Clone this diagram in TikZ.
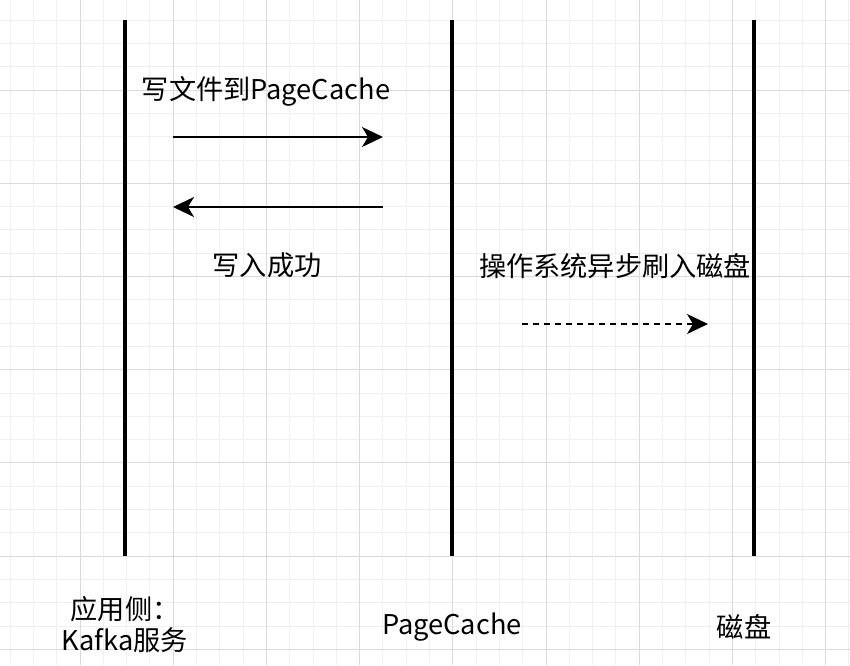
\documentclass[tikz,border=0pt]{standalone}
\usepackage{fontspec}
\setmainfont{Noto Sans CJK SC}
\usetikzlibrary{arrows.meta, positioning}

\begin{document}
\begin{tikzpicture}[x=0.5pt, y=-0.5pt,
  minorgrid/.style={draw=black!6, line width=0.5pt},
  majorgrid/.style={draw=black!14, line width=0.5pt},
  lifeline/.style={line width=2pt, black},
  msg/.style={line width=1pt, -{Stealth[length=10.5pt, width=10pt, inset=3pt]}},
  label/.style={font=\fontsize{13.6pt}{15.5pt}\selectfont, inner sep=0pt, align=center}]
\useasboundingbox (0,0) rectangle (850,665);
\fill[white] (0,0) rectangle (850,665);

% Background grid
\foreach \i in {0,...,36} {\draw[minorgrid] ({10.1+23.3*\i},0) -- ({10.1+23.3*\i},665);}
\foreach \j in {0,...,27} {\draw[minorgrid] (0,{20.2+23.3*\j}) -- (850,{20.2+23.3*\j});}
\foreach \m in {1,...,9} {\draw[majorgrid] ({-13.2+93.2*\m},0) -- ({-13.2+93.2*\m},665);}
\foreach \m in {1,...,7} {\draw[majorgrid] (0,{-3.1+93.2*\m}) -- (850,{-3.1+93.2*\m});}

% Lifelines
\coordinate (appTop) at (125,20);
\coordinate (appBot) at (125,556);
\coordinate (cacheTop) at (452,20);
\coordinate (cacheBot) at (452,556);
\coordinate (diskTop) at (754,20);
\coordinate (diskBot) at (754,556);
\draw[lifeline] (appTop) -- (appBot);
\draw[lifeline] (cacheTop) -- (cacheBot);
\draw[lifeline] (diskTop) -- (diskBot);

% Participant names
\node[label] (app) at (125,625) {应用侧：\\Kafka服务};
\node[label] (cache) at (452,627) {PageCache};
\node[label] (disk) at (744,627) {磁盘};

% Write to page cache
\node[label] (writeText) at (266,91) {写文件到PageCache};
\coordinate (writeFrom) at (173,137);
\coordinate (writeTo) at (383,137);
\draw[msg] (writeFrom) -- (writeTo);

% Write success
\coordinate (ackFrom) at (383,207);
\coordinate (ackTo) at (173,207);
\draw[msg] (ackFrom) -- (ackTo);
\node[label] (ackText) at (267,265) {写入成功};

% Async flush to disk
\node[label] (flushText) at (615,266) {操作系统异步刷入磁盘};
\coordinate (flushFrom) at (522,324);
\coordinate (flushTo) at (708,324);
\draw[msg, dash pattern=on 3pt off 2.5pt] (flushFrom) -- (flushTo);
\end{tikzpicture}
\end{document}
